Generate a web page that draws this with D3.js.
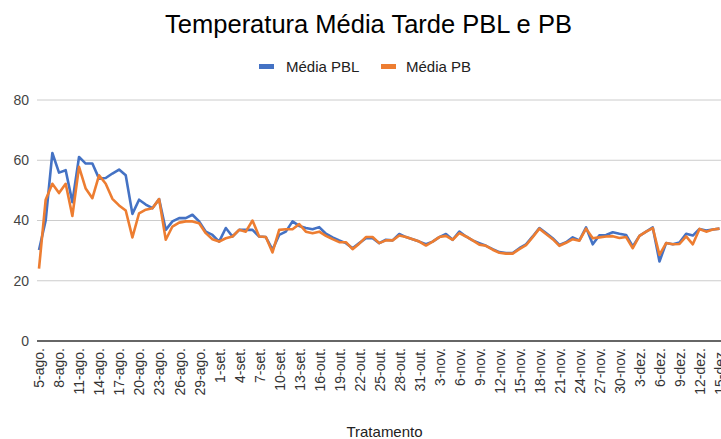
<!DOCTYPE html>
<html><head><meta charset="utf-8">
<script src="https://cdn.jsdelivr.net/npm/d3@7"></script>
<style>body{margin:0;background:#fff;} svg{display:block;font-family:"Liberation Sans",Arial,sans-serif;}</style>
</head><body>
<svg id="c" width="721" height="439"></svg>
<script>
const title = "Temperatura Média Tarde PBL e PB";
const seriesNames = ["Média PBL", "Média PB"];
const colors = ["#4472C4", "#ED7D31"];
const monthSegments = [["ago.", 5, 31], ["set.", 1, 15], ["out.", 16, 31], ["nov.", 1, 30], ["dez.", 1, 15]];
const categories = [];
monthSegments.forEach(([m, a, b]) => { for (let d = a; d <= b; d++) categories.push(d + "-" + m); });
const mediaPBL = [30.2,40,62.4,55.9,56.7,46.1,61.1,58.9,58.9,53.9,54.1,55.6,56.9,55,42.2,46.9,45.3,44.1,47.1,36.9,
39.7,40.8,40.8,41.9,39.7,36.3,35.2,33,37.5,34.7,36.9,36.9,36.9,34.7,34.5,30.3,35.2,36.3,39.7,38.2,
37.5,37.1,37.8,35.6,34.4,33.4,32.5,30.8,32.5,34.1,34.1,32.5,33.6,33.4,35.5,34.5,33.8,33,32.1,33,
34.5,35.5,33.6,36.3,34.7,33.4,32.5,31.6,30.5,29.5,29.2,29.2,30.8,32.1,34.7,37.5,35.8,34.1,31.9,32.8,
34.4,33.4,37.7,32.1,35.1,35.2,36.1,35.6,35.2,31.4,34.9,36.3,37.7,26.4,32.5,32.1,32.7,35.6,35,37.2,
36.7,37,37.3];
const mediaPB = [24,46.9,52.2,49.1,52.2,41.5,57.8,50.6,47.4,55,52.2,47.2,45,43.3,34.4,42.4,43.6,44.1,47.1,33.6,
38,39.3,39.7,39.7,39.1,35.8,33.8,33,34.1,34.7,36.9,36.3,40,34.7,34.5,29.4,36.9,37.1,37.1,38.8,
36.3,35.8,36.3,34.9,33.8,32.8,32.8,30.5,32.3,34.5,34.5,32.5,33.4,33.4,35,34.5,33.8,33,31.7,33,
34.5,34.9,33.6,35.8,34.7,33.4,32,31.6,30.3,29.3,29,29,30.5,31.8,34.5,37.3,35.5,33.8,31.6,32.6,
33.8,33.3,37.3,34.1,34.4,34.7,34.8,34.2,34.5,30.8,34.9,36.3,37.5,28.6,32.5,32.1,32.2,34.7,32.1,37.2,
36.3,37,37.3];
const yTicks = [0, 20, 40, 60, 80];
const xTitle = "Tratamento";

const svg = d3.select("#c");
const x = d3.scalePoint().domain(categories).range([39, 719.5]);
const y = d3.scaleLinear().domain([0, 80]).range([341, 100]);
const plotL = 37, plotR = 721;

// gridlines
svg.append("g").selectAll("line").data(yTicks.filter(t => t !== 0)).join("line")
  .attr("x1", plotL).attr("x2", plotR).attr("y1", d => y(d)).attr("y2", d => y(d))
  .attr("stroke", "#cccccc").attr("stroke-width", 1);

// y axis labels
const yAxis = d3.axisLeft(y).tickValues(yTicks).tickSize(0).tickPadding(0);
const gy = svg.append("g").attr("transform", "translate(29,0)").call(yAxis);
gy.select(".domain").remove();
gy.selectAll("text").attr("font-size", 14).attr("fill", "#444").attr("font-family", "Liberation Sans, Arial, sans-serif");

// lines
const line = d3.line().x((d, i) => x(categories[i])).y(d => y(d));
[mediaPBL, mediaPB].forEach((s, k) => {
  svg.append("path").datum(s).attr("d", line).attr("fill", "none")
    .attr("stroke", colors[k]).attr("stroke-width", 2.6).attr("stroke-linejoin", "round");
});

// x axis
const xAxis = d3.axisBottom(x).tickValues(categories.filter((c, i) => i % 3 === 0)).tickSize(0).tickPadding(0);
const gx = svg.append("g").attr("transform", "translate(0,341)").call(xAxis);
gx.select(".domain").remove();
gx.selectAll("text").attr("font-size", 14).attr("fill", "#333").attr("font-family", "Liberation Sans, Arial, sans-serif")
  .attr("text-anchor", "end").attr("dy", "0.35em").attr("y", 0)
  .attr("transform", "translate(0,7) rotate(-90)");
svg.append("line").attr("x1", plotL).attr("x2", plotR).attr("y1", y(0)).attr("y2", y(0))
  .attr("stroke", "#333").attr("stroke-width", 1.3);

// title
svg.append("text").attr("x", 368.5).attr("y", 33).attr("text-anchor", "middle")
  .attr("font-size", 25.5).attr("fill", "#000").text(title);

// legend
const leg = [{x: 259, tx: 286}, {x: 381, tx: 406}];
seriesNames.forEach((n, k) => {
  svg.append("rect").attr("x", leg[k].x).attr("y", 64).attr("width", 15).attr("height", 5).attr("fill", colors[k]);
  svg.append("text").attr("x", leg[k].tx).attr("y", 72).attr("font-size", 15).attr("fill", "#222").text(n);
});

// x title
svg.append("text").attr("x", 384.5).attr("y", 436.5).attr("text-anchor", "middle")
  .attr("font-size", 15).attr("fill", "#222").text(xTitle);
</script>
</body></html>
